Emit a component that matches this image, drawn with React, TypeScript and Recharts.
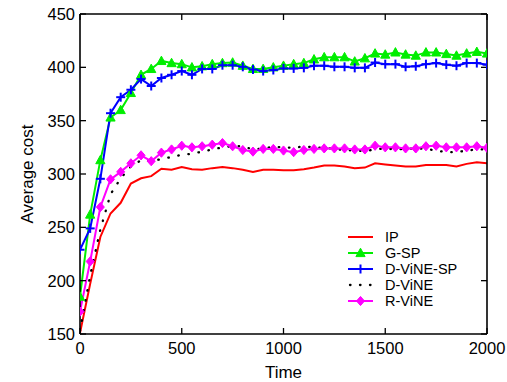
import React from 'react';
import { LineChart, Line, XAxis, YAxis, Legend } from 'recharts';

const time = [0, 50, 100, 150, 200, 250, 300, 350, 400, 450, 500, 550, 600, 650, 700, 750, 800, 850, 900, 950, 1000,
  1050, 1100, 1150, 1200, 1250, 1300, 1350, 1400, 1450, 1500, 1550, 1600, 1650, 1700, 1750, 1800, 1850, 1900, 1950, 2000];

const ip = [151, 197, 241, 263, 273, 291, 296, 298, 305, 304, 306.5, 304.5, 304, 305.5, 306.5, 305.5, 304, 302, 304, 304, 303.5,
  303.5, 304.5, 306, 308, 308, 307, 305.5, 306, 310, 309, 308, 307, 307, 308.5, 308.5, 308.5, 307, 309.5, 311, 310];

const gsp = [185, 262, 313, 353, 360, 376, 393, 398.5, 406, 404, 403, 400, 401, 403, 404, 404.5, 401.5, 398.5, 398.5, 400, 401.5,
  403, 404, 407.5, 409.5, 409.5, 409.5, 405.5, 408.5, 413, 412, 414, 412, 411, 414, 414, 412.5, 411, 413, 414.5, 413];

const dvinesp = [229, 249, 295.5, 357, 372, 379, 389, 382.5, 390, 393, 396.5, 393, 398.5, 398.5, 402, 402, 400.5, 398, 396.5, 397.5, 399,
  399, 399.5, 401.5, 401.5, 400.5, 400.5, 399.5, 399.5, 404.5, 403, 403, 400.5, 401, 403, 404, 402.5, 401.5, 404, 404, 402.5];

const dvine = [153, 205, 248, 281, 296, 307, 313, 312, 314, 316, 318, 319, 321, 323, 325, 326, 326, 323, 324, 325.5, 325,
  324.5, 326, 325, 324.5, 323.5, 322.5, 322, 321.5, 323, 324, 323, 323.5, 324, 323.5, 322, 320.5, 320.5, 322, 323, 323];

const rvine = [171, 218, 269, 295, 302, 310, 317.5, 312, 320, 323, 326.5, 325, 326, 327.5, 329, 326, 322.5, 321, 323.5, 323.5, 322,
  320.5, 322.5, 323.5, 324, 324, 324, 323, 323, 326.5, 325, 325, 324, 324, 326, 326.5, 325, 325, 325, 326, 324.5];

const xTicks = [0, 500, 1000, 1500, 2000];
const yTicks = [150, 200, 250, 300, 350, 400, 450];

const seriesNames = ['IP', 'G-SP', 'D-ViNE-SP', 'D-ViNE', 'R-ViNE'];

const data = time.map((t, i) => ({
  time: t,
  ip: ip[i],
  gsp: gsp[i],
  dvinesp: dvinesp[i],
  dvine: dvine[i],
  rvine: rvine[i],
}));

const RED = '#ff0000';
const GREEN = '#00ee00';
const BLUE = '#0000ff';
const MAGENTA = '#ff00ff';
const FONT = "'Liberation Sans', Arial, Helvetica, sans-serif";

function Tri({ cx, cy }: { cx: number; cy: number }) {
  if (cx == null || cy == null) return null;
  return <polygon points={`${cx},${cy - 4.8} ${cx - 4.6},${cy + 3.6} ${cx + 4.6},${cy + 3.6}`} fill={GREEN} stroke={GREEN} strokeWidth={1} />;
}

function Plus({ cx, cy }: { cx: number; cy: number }) {
  if (cx == null || cy == null) return null;
  return (
    <g stroke={BLUE} strokeWidth={2}>
      <line x1={cx - 4.5} y1={cy} x2={cx + 4.5} y2={cy} />
      <line x1={cx} y1={cy - 4.5} x2={cx} y2={cy + 4.5} />
    </g>
  );
}

function Diamond({ cx, cy }: { cx: number; cy: number }) {
  if (cx == null || cy == null) return null;
  return <polygon points={`${cx},${cy - 4.6} ${cx + 4},${cy} ${cx},${cy + 4.6} ${cx - 4},${cy}`} fill={MAGENTA} stroke={MAGENTA} strokeWidth={1} />;
}

function LegendSample({ idx }: { idx: number }) {
  const y = 8;
  const mid = 12.5;
  let line: React.ReactNode;
  let marker: React.ReactNode = null;
  if (idx === 0) line = <line x1={0} y1={y} x2={25} y2={y} stroke={RED} strokeWidth={2} />;
  else if (idx === 1) { line = <line x1={0} y1={y} x2={25} y2={y} stroke={GREEN} strokeWidth={2} />; marker = <Tri cx={mid} cy={y} />; }
  else if (idx === 2) { line = <line x1={0} y1={y} x2={25} y2={y} stroke={BLUE} strokeWidth={2} />; marker = <Plus cx={mid} cy={y} />; }
  else if (idx === 3) line = <line x1={2} y1={y} x2={25} y2={y} stroke="#000" strokeWidth={2.3} strokeDasharray="0.5 9.5" strokeLinecap="round" />;
  else { line = <line x1={0} y1={y} x2={25} y2={y} stroke={MAGENTA} strokeWidth={2} />; marker = <Diamond cx={mid} cy={y} />; }
  return (
    <svg width={37} height={16} style={{ display: 'block' }}>
      {line}
      {marker}
    </svg>
  );
}

function LegendContent() {
  return (
    <div style={{ fontFamily: FONT, fontSize: 14.5, color: '#000' }}>
      {seriesNames.map((n, i) => (
        <div key={n} style={{ display: 'flex', alignItems: 'center', height: 16 }}>
          <LegendSample idx={i} />
          <span style={{ lineHeight: '16px' }}>{n}</span>
        </div>
      ))}
    </div>
  );
}

function YLabel(props: any) {
  const vb = props.viewBox || { x: 0, y: 0, width: 0, height: 0 };
  const cx = 27;
  const cy = vb.y + vb.height / 2;
  return (
    <text x={cx} y={cy} transform={`rotate(-90, ${cx}, ${cy})`} textAnchor="middle" dominantBaseline="central"
      fontFamily={FONT} fontSize={17} fill="#000">Average cost</text>
  );
}

const NoTick = () => <g />;

export default function App() {
  const tickStyle = { fontFamily: FONT, fontSize: 16.5, fill: '#000' };
  const axisLine = { stroke: '#000', strokeWidth: 1.6 };
  const tickLine = { stroke: '#000', strokeWidth: 1.3 };
  return (
    <div style={{ position: 'absolute', left: 0, top: 0, width: 507, height: 382 }}>
      <LineChart width={507} height={382} data={data} margin={{ top: 13, right: 19, bottom: 0, left: 0 }}>
        <XAxis dataKey="time" type="number" domain={[0, 2000]} ticks={xTicks} interval={0}
          height={48} tickSize={-6} tickMargin={14} axisLine={axisLine} tickLine={tickLine} tick={tickStyle}
          allowDataOverflow
          label={{ value: 'Time', position: 'insideBottom', offset: 4, style: { fontFamily: FONT, fontSize: 17, fill: '#000' } }} />
        <XAxis xAxisId="top" orientation="top" dataKey="time" type="number" domain={[0, 2000]} ticks={xTicks} interval={0}
          height={1} tickSize={-6} tickMargin={0} axisLine={axisLine} tickLine={tickLine} tick={NoTick} allowDataOverflow />
        <YAxis type="number" domain={[150, 450]} ticks={yTicks} interval={0} width={80}
          tickSize={-6} tickMargin={11} axisLine={axisLine} tickLine={tickLine} tick={tickStyle} allowDataOverflow
          label={<YLabel />} />
        <YAxis yAxisId="right" orientation="right" type="number" domain={[150, 450]} ticks={yTicks} interval={0} width={1}
          tickSize={-6} tickMargin={0} axisLine={axisLine} tickLine={tickLine} tick={NoTick} allowDataOverflow />
        <Line xAxisId="top" yAxisId="right" dataKey="ip" stroke="none" strokeWidth={0} dot={false} activeDot={false}
          legendType="none" isAnimationActive={false} />
        <Line dataKey="ip" stroke={RED} strokeWidth={2} dot={false} isAnimationActive={false} />
        <Line dataKey="gsp" stroke={GREEN} strokeWidth={2} isAnimationActive={false}
          dot={(p: any) => <Tri key={`g${p.index}`} cx={p.cx} cy={p.cy} />} />
        <Line dataKey="dvinesp" stroke={BLUE} strokeWidth={2} isAnimationActive={false}
          dot={(p: any) => <Plus key={`b${p.index}`} cx={p.cx} cy={p.cy} />} />
        <Line dataKey="dvine" stroke="#000" strokeWidth={2.3} strokeDasharray="0.5 9.7" strokeLinecap="round" dot={false} isAnimationActive={false} />
        <Line dataKey="rvine" stroke={MAGENTA} strokeWidth={2} isAnimationActive={false}
          dot={(p: any) => <Diamond key={`m${p.index}`} cx={p.cx} cy={p.cy} />} />
        <Legend layout="vertical" align="center" verticalAlign="middle" content={<LegendContent />}
          wrapperStyle={{ position: 'absolute', left: 348, top: 229, width: 150, height: 80 }} />
      </LineChart>
    </div>
  );
}
